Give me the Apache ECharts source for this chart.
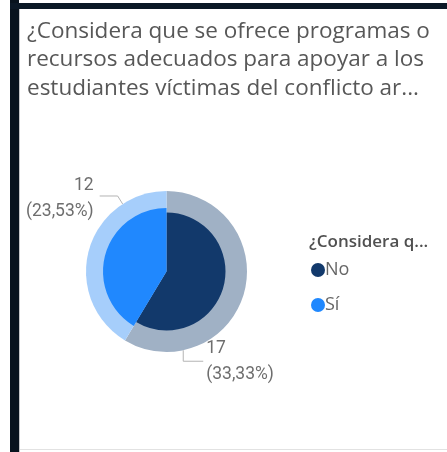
<!DOCTYPE html>
<html>
<head>
<meta charset="utf-8">
<script src="https://cdn.jsdelivr.net/npm/echarts@6/dist/echarts.min.js"></script>
<style>
  html, body { margin: 0; padding: 0; background: #ffffff; }
  #chart { width: 447px; height: 452px; }
</style>
</head>
<body>
<div id="chart"></div>
<script>
// Survey answers and counts
const categories = ['No', 'Sí'];
const counts = [17, 12];
// Percentages in the labels are taken over every response to the survey
const totalResponses = 51;

const titleLines = [
  '¿Considera que se ofrece programas o',
  'recursos adecuados para apoyar a los',
  'estudiantes víctimas del conflicto ar...'
];
const legendHeading = '¿Considera q...';

// Styling
const innerColors = ['#12396b', '#2088fe'];
const outerColors = ['#a0b1c5', '#a6cefb'];
const innerRadii = [59, 63.5];
const CX = 166.5, CY = 271.5, R = 80.5;
const titleFont = '"Open Sans", "Noto Sans", sans-serif';
const labelFont = '"Liberation Sans Narrow", "Roboto", sans-serif';

function pctText(v) {
  return (v / totalResponses * 100).toFixed(2).replace('.', ',') + '%';
}

// Point on the outer edge at a clockwise angle measured from 12 o'clock
function edgePoint(deg, r) {
  const a = deg * Math.PI / 180;
  return [CX + r * Math.sin(a), CY - r * Math.cos(a)];
}

// Callout placement for each answer: anchor angle on the ring, elbow and text side
const callouts = [
  { angle: 168, elbow: [0, 11], run: 20, side: 'left', gap: 3, dy: 0 },
  { angle: 327, elbow: [-5, -8], run: -18, side: 'right', gap: 6, dy: 2.5 }
];

function layoutLabel(params) {
  const c = callouts[params.dataIndex];
  if (!c) return {};
  const p0 = edgePoint(c.angle, R);
  const p1 = [p0[0] + c.elbow[0], p0[1] + c.elbow[1]];
  const p2 = [p1[0] + c.run, p1[1]];
  const tx = c.side === 'left' ? p2[0] + c.gap : p2[0] - c.gap;
  return {
    x: tx,
    y: p2[1] + c.dy,
    align: c.side,
    verticalAlign: 'middle',
    labelLinePoints: [p0, p1, p2]
  };
}

const chart = echarts.init(document.getElementById('chart'), null, { renderer: 'canvas' });

const outerData = categories.map((name, i) => ({
  name, value: counts[i], itemStyle: { color: outerColors[i] }
}));

// Each inner slice gets its own radius, so each is drawn by its own series
const innerSeries = categories.map((name, k) => ({
  type: 'pie',
  name: 'inner-' + name,
  silent: true,
  center: [CX, CY],
  radius: [0, innerRadii[k]],
  startAngle: 90,
  clockwise: true,
  label: { show: false },
  labelLine: { show: false },
  emphasis: { disabled: true },
  z: 3,
  data: categories.map((n, i) => ({
    name: n,
    value: counts[i],
    itemStyle: { color: i === k ? innerColors[i] : 'rgba(0,0,0,0)' }
  }))
}));

chart.setOption({
  backgroundColor: '#ffffff',
  animation: false,
  title: [
    {
      text: titleLines.join('\n'),
      left: 22,
      top: 12,
      textStyle: {
        fontFamily: titleFont,
        fontSize: 22.5,
        fontWeight: 'normal',
        lineHeight: 28.5,
        color: '#575757'
      }
    },
    {
      text: legendHeading,
      left: 304,
      top: 227,
      textStyle: {
        fontFamily: titleFont,
        fontSize: 17,
        fontWeight: 600,
        lineHeight: 20,
        color: '#505050'
      }
    }
  ],
  legend: {
    orient: 'vertical',
    left: 306,
    top: 256,
    itemWidth: 14,
    itemHeight: 14,
    itemGap: 17,
    icon: 'circle',
    selectedMode: false,
    textStyle: {
      fontFamily: titleFont,
      fontSize: 18,
      color: '#666666',
      padding: [0, 0, 0, -5]
    },
    data: categories.map((n, i) => ({ name: n, itemStyle: { color: innerColors[i] } }))
  },
  graphic: [
    { type: 'rect', shape: { x: 10, y: 0, width: 9, height: 452 }, style: { fill: '#08131e' }, silent: true },
    { type: 'rect', shape: { x: 10, y: 3, width: 437, height: 6 }, style: { fill: '#0b1826' }, silent: true },
    { type: 'rect', shape: { x: 19, y: 9, width: 1, height: 443 }, style: { fill: '#c4c6c8' }, silent: true },
    { type: 'rect', shape: { x: 20, y: 449, width: 427, height: 1 }, style: { fill: '#e2e2e2' }, silent: true }
  ],
  series: [
    {
      type: 'pie',
      name: 'outer',
      silent: true,
      center: [CX, CY],
      radius: [0, R],
      startAngle: 90,
      clockwise: true,
      z: 2,
      emphasis: { disabled: true },
      label: {
        show: true,
        position: 'outside',
        formatter: p => p.value + '\n(' + pctText(p.value) + ')',
        fontFamily: labelFont,
        fontSize: 17.5,
        lineHeight: 26,
        width: 90,
        overflow: 'none',
        color: '#6e6e6e'
      },
      labelLine: {
        show: true,
        lineStyle: { color: '#b4b4b4', width: 1 }
      },
      labelLayout: layoutLabel,
      data: outerData
    },
    ...innerSeries
  ]
});
</script>
</body>
</html>
